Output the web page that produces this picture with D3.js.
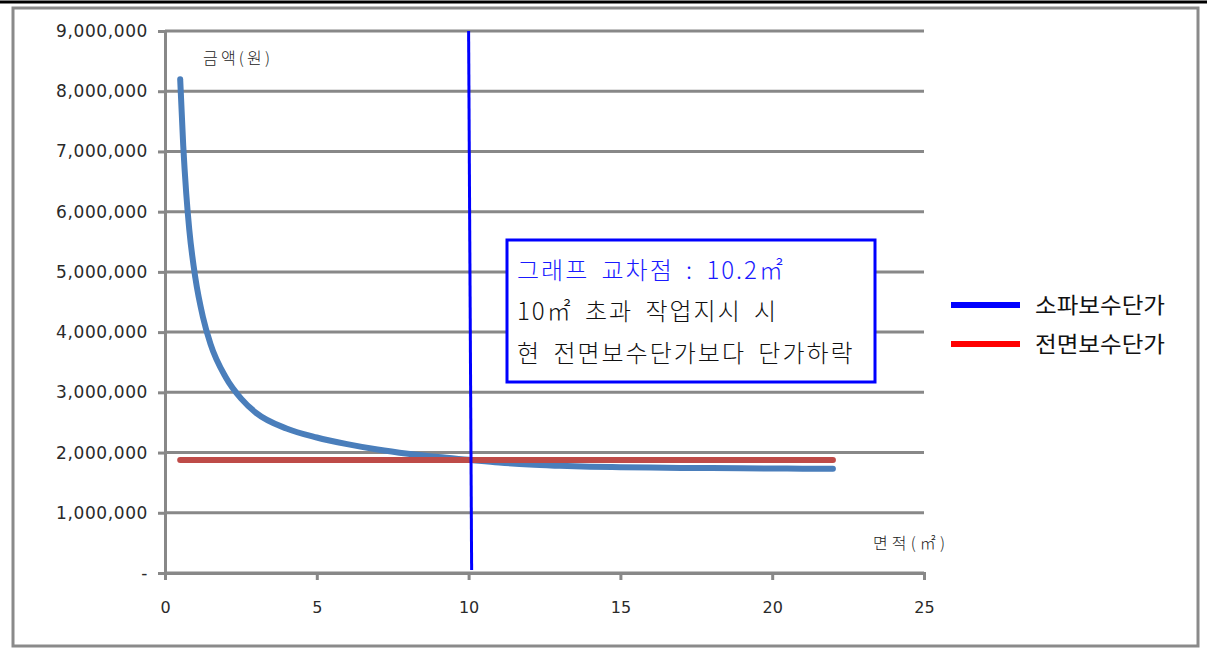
<!DOCTYPE html>
<html><head><meta charset="utf-8">
<script src="https://cdn.jsdelivr.net/npm/d3@7"></script>
<style>
html,body{margin:0;padding:0;background:#fff;}
svg{display:block;}
</style></head>
<body>
<svg id="chart" width="1207" height="649"></svg>
<script>
// ---- data ----
const areaX = [0.5, 0.6, 0.7, 0.8, 1.0, 1.25, 1.5, 2, 2.5, 3, 4, 5, 6, 7, 8, 9, 10, 11, 12, 13, 14, 15, 16, 17, 18, 19, 20, 21, 22];
const sopaValues = [8200000, 7100000, 6300000, 5700000, 4900000, 4250000, 3800000, 3250000, 2900000, 2660000, 2400000, 2250000, 2140000, 2050000, 1980000, 1925000, 1880000, 1835000, 1800000, 1780000, 1765000, 1757000, 1750000, 1745000, 1742000, 1739000, 1736000, 1733000, 1730000];
const jeonmyeonX = [0.5, 22];
const jeonmyeonValues = [1875000, 1875000];
const markerX = [10.0, 10.1];
const markerY = [9000000, 50000];
const yTicks = [0, 1000000, 2000000, 3000000, 4000000, 5000000, 6000000, 7000000, 8000000, 9000000];
const xTicks = [0, 5, 10, 15, 20, 25];
const seriesNames = ["소파보수단가", "전면보수단가"];
const noteLines = ["그래프 교차점 : 10.2㎡", "10㎡ 초과 작업지시 시", "현 전면보수단가보다 단가하락"];
const yAxisTitle = "금액(원)";
const xAxisTitle = "면적(㎡)";

// ---- layout ----
const svg = d3.select("#chart");
const x = d3.scaleLinear().domain([0, 25]).range([165, 924]);
const y = d3.scaleLinear().domain([0, 9000000]).range([573, 31]);
const gridColor = "#888888";

// outer frame
svg.append("line").attr("x1", 0).attr("x2", 1207).attr("y1", 2).attr("y2", 2)
  .attr("stroke", "#000").attr("stroke-width", 3);
svg.append("rect").attr("x", 13).attr("y", 8).attr("width", 1185).attr("height", 638)
  .attr("fill", "none").attr("stroke", "#8a8a8a").attr("stroke-width", 3);

// gridlines
svg.append("g").selectAll("line").data(yTicks).join("line")
  .attr("x1", x(0)).attr("x2", x(25))
  .attr("y1", d => y(d)).attr("y2", d => y(d))
  .attr("stroke", gridColor).attr("stroke-width", 3);

// y axis
const yAxis = d3.axisLeft(y).tickValues(yTicks).tickSize(7).tickPadding(10)
  .tickFormat(d => d === 0 ? "-" : d3.format(",")(d));
const gy = svg.append("g").attr("transform", `translate(${x(0)},0)`).call(yAxis);
gy.select(".domain").attr("stroke", gridColor).attr("stroke-width", 3);
gy.selectAll(".tick line").attr("stroke", gridColor).attr("stroke-width", 3);
gy.selectAll(".tick text").attr("font-family", "'DejaVu Sans', sans-serif")
  .attr("font-size", 17).attr("letter-spacing", "0.6px").attr("fill", "#2a2a2a");

// x axis
const xAxis = d3.axisBottom(x).tickValues(xTicks).tickSize(7).tickPadding(22).tickFormat(d3.format("d"));
const gx = svg.append("g").attr("transform", `translate(0,${y(0)})`).call(xAxis);
gx.select(".domain").attr("stroke", gridColor).attr("stroke-width", 3);
gx.selectAll(".tick line").attr("stroke", gridColor).attr("stroke-width", 3);
gx.selectAll(".tick text").attr("font-family", "'DejaVu Sans', sans-serif")
  .attr("font-size", 16).attr("fill", "#2a2a2a");

// series
const line = d3.line().x(d => x(d[0])).y(d => y(d[1])).curve(d3.curveMonotoneX);
svg.append("path").datum(areaX.map((v, i) => [v, sopaValues[i]]))
  .attr("d", line).attr("fill", "none").attr("stroke", "#4A7EBB")
  .attr("stroke-width", 6).attr("stroke-linecap", "round").attr("stroke-linejoin", "round");
svg.append("path").datum(jeonmyeonX.map((v, i) => [v, jeonmyeonValues[i]]))
  .attr("d", d3.line().x(d => x(d[0])).y(d => y(d[1])))
  .attr("fill", "none").attr("stroke", "#BE4B48")
  .attr("stroke-width", 6).attr("stroke-linecap", "round");

// vertical marker
svg.append("line")
  .attr("x1", x(markerX[0])).attr("y1", y(markerY[0]))
  .attr("x2", x(markerX[1])).attr("y2", y(markerY[1]))
  .attr("stroke", "#0000FF").attr("stroke-width", 3);

// axis titles
svg.append("text").attr("x", 203).attr("y", 64).text(yAxisTitle)
  .attr("textLength", 67).attr("lengthAdjust", "spacing")
  .attr("font-family", "'Noto Sans CJK KR', sans-serif").attr("font-size", 16)
  .attr("font-weight", 300).attr("fill", "#222");
svg.append("text").attr("x", 873).attr("y", 549).text(xAxisTitle)
  .attr("textLength", 72).attr("lengthAdjust", "spacing")
  .attr("font-family", "'Noto Sans CJK KR', sans-serif").attr("font-size", 16)
  .attr("font-weight", 300).attr("fill", "#222");

// note box
svg.append("rect").attr("x", 507).attr("y", 240).attr("width", 368).attr("height", 142)
  .attr("fill", "#fff").attr("stroke", "#0000FF").attr("stroke-width", 3);
const noteBase = [279, 320, 362];
const noteColors = ["#1a1aff", "#111", "#111"];
svg.append("g").selectAll("text").data(noteLines).join("text")
  .attr("x", 517).attr("y", (d, i) => noteBase[i])
  .attr("font-family", "'Noto Sans CJK KR', sans-serif").attr("font-size", 24)
  .attr("letter-spacing", "2px").attr("word-spacing", "5px")
  .attr("font-weight", 300)
  .attr("fill", (d, i) => noteColors[i]).text(d => d);

// legend
const legendColors = ["#0000FF", "#FF0000"];
const legendY = [305, 344];
const lg = svg.append("g");
lg.selectAll("line").data(seriesNames).join("line")
  .attr("x1", 951).attr("x2", 1020)
  .attr("y1", (d, i) => legendY[i]).attr("y2", (d, i) => legendY[i])
  .attr("stroke", (d, i) => legendColors[i]).attr("stroke-width", 6);
lg.selectAll("text").data(seriesNames).join("text")
  .attr("x", 1035).attr("y", (d, i) => legendY[i]).attr("dy", "0.36em")
  .attr("textLength", 130).attr("lengthAdjust", "spacingAndGlyphs")
  .attr("font-family", "'Noto Sans CJK KR', sans-serif").attr("font-size", 22)
  .attr("fill", "#111").text(d => d);
</script>
</body></html>
